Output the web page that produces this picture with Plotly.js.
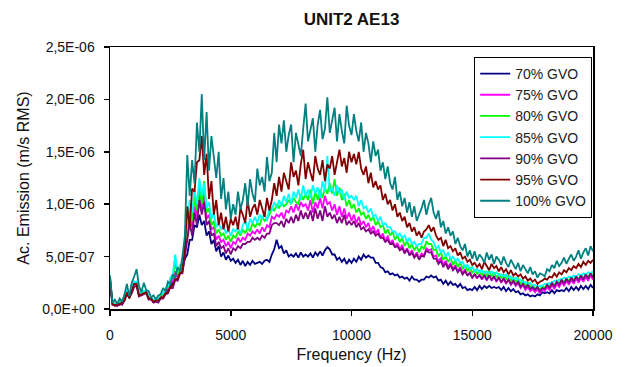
<!DOCTYPE html>
<html>
<head>
<meta charset="utf-8">
<script src="https://cdn.plot.ly/plotly-3.0.1.min.js"></script>
<style>
  html, body { margin: 0; padding: 0; background: #fff; }
  #chart { width: 629px; height: 367px; }
</style>
</head>
<body>
<div id="chart"></div>
<script>
// Acoustic emission spectra, sensor AE13 on unit 2, one trace per guide-vane opening.
// Amplitudes are stored in units of 1E-08 m/s RMS, sampled every 100 Hz from 0 to 20000 Hz.
const AMPLITUDE_UNIT = 1e-8;
const FREQ_STEP_HZ = 100;

const seriesNames = ['70% GVO', '75% GVO', '80% GVO', '85% GVO', '90% GVO', '95% GVO', '100% GVO'];

const gvo70 = [
  30,6,5,4,6,5,10,17,11,19,26,
  25,14,15,17,17,11,11,8,9,9,
  13,13,17,18,23,25,31,32,38,38,
  48,52,66,66,80,78,90,80,84,70,
  74,62,66,55,60,50,54,47,51,46,
  48,44,47,42,46,41,45,42,46,43,
  44,45,43,46,47,45,52,57,66,58,
  60,53,56,50,52,50,53,49,54,50,
  52,50,53,49,54,51,55,51,56,59,
  57,52,52,47,49,45,48,43,47,44,
  48,45,50,47,52,49,51,49,49,44,
  44,40,39,35,36,33,34,32,33,30,
  31,29,30,27,31,28,28,26,28,28,
  31,30,32,30,31,27,28,24,27,23,
  26,23,24,21,24,20,21,18,19,18,
  21,18,22,19,22,20,22,20,21,20,
  21,18,21,17,20,17,19,16,17,14,
  15,13,14,12,13,12,14,13,16,15,
  16,15,18,15,18,17,18,17,20,17,
  21,18,21,18,22,19,22,19,23,20
];

const gvo75 = [
  27,5,4,3,6,5,9,15,12,16,23,
  23,13,14,15,16,10,10,7,9,8,
  12,13,18,19,26,26,36,30,37,38,
  55,75,88,78,98,88,112,96,110,86,
  90,76,78,66,70,64,66,60,64,58,
  64,62,68,64,68,66,72,70,74,72,
  76,72,78,74,80,78,88,86,90,88,
  92,86,94,92,98,92,100,94,102,98,
  100,94,104,92,102,96,106,96,108,100,
  102,94,100,90,98,88,96,86,92,84,
  90,82,88,80,84,78,82,74,79,72,
  76,68,72,64,70,62,66,59,63,57,
  61,54,58,52,56,50,54,48,53,51,
  58,56,57,50,51,45,49,42,46,40,
  44,38,42,36,40,34,38,32,35,30,
  33,29,33,28,32,27,32,27,31,26,
  30,25,29,24,28,23,26,22,25,20,
  23,18,21,17,19,16,19,15,19,17,
  21,18,23,19,24,21,26,22,27,23,
  28,24,29,25,30,26,31,27,32,28
];

const gvo80 = [
  27,6,5,4,6,6,10,17,13,18,25,
  25,14,15,16,17,11,11,8,9,9,
  13,14,19,21,28,30,44,33,40,42,
  60,82,96,84,106,94,118,100,122,92,
  96,80,84,72,76,70,72,66,70,64,
  70,68,74,70,76,72,78,74,82,78,
  82,80,88,84,86,90,96,94,100,96,
  102,98,100,104,100,106,102,100,110,104,
  110,104,114,100,112,104,114,106,116,110,
  120,110,124,108,116,104,110,98,104,96,
  100,92,96,90,92,86,90,84,88,80,
  84,78,80,72,76,70,74,66,70,64,
  68,60,65,58,62,56,60,54,60,57,
  64,62,62,56,57,50,54,47,50,45,
  49,42,46,40,45,38,42,36,40,34,
  38,33,37,32,36,31,36,31,35,30,
  34,29,33,28,32,27,30,26,29,24,
  27,22,25,21,23,19,22,18,22,20,
  24,21,26,22,27,24,29,25,30,26,
  31,27,32,28,33,29,34,30,35,31
];

const gvo85 = [
  28,6,4,6,5,8,9,19,11,20,26,
  26,14,16,17,18,12,11,8,10,10,
  14,15,20,22,30,33,52,36,42,44,
  64,88,104,92,114,100,125,108,120,96,
  102,86,92,78,82,76,80,72,76,70,
  76,74,78,72,80,84,76,86,82,88,
  82,90,86,92,84,96,94,102,96,104,
  98,108,102,110,100,112,106,114,104,118,
  108,114,106,118,110,116,106,122,112,146,
  112,116,108,118,110,114,104,112,106,108,
  104,108,98,104,96,98,92,96,88,90,
  84,88,80,82,78,78,74,74,70,72,
  68,70,64,68,62,64,60,62,62,68,
  68,72,66,64,58,60,54,56,50,54,
  48,50,46,48,44,45,40,42,38,40,
  36,38,35,37,34,36,34,36,33,35,
  32,33,31,33,29,31,28,30,27,28,
  25,26,23,25,22,23,21,22,22,24,
  23,25,25,27,26,28,28,30,29,31,
  30,32,31,33,32,34,33,35,34,36
];

const gvo90 = [
  26,4,4,3,5,4,8,14,11,15,21,
  22,12,13,14,15,9,9,6,7,6,
  10,10,14,15,21,20,28,27,34,34,
  50,66,82,70,92,80,104,90,102,80,
  84,70,72,60,64,58,60,53,58,52,
  58,56,60,58,62,62,64,64,68,66,
  68,66,70,68,72,72,80,82,82,80,
  84,78,86,82,88,82,90,84,94,86,
  92,86,94,84,96,86,94,84,98,88,
  92,86,90,82,88,82,90,80,84,80,
  84,78,82,76,78,74,76,72,74,70,
  72,68,68,64,66,62,63,59,60,56,
  58,53,57,51,54,49,52,47,51,50,
  56,54,54,48,48,43,46,40,44,38,
  42,37,40,35,38,33,36,32,34,30,
  33,30,32,29,32,28,32,28,31,27,
  30,26,29,25,28,24,27,23,26,21,
  24,20,23,19,21,18,21,17,20,19,
  23,20,25,21,26,23,28,24,29,25,
  30,26,31,27,32,28,33,29,34,30
];

const gvo95 = [
  28,5,3,5,4,7,8,16,10,18,24,
  24,13,14,15,16,10,10,7,8,8,
  11,11,15,16,21,23,28,29,34,36,
  58,98,78,115,112,140,142,165,128,148,
  105,122,90,104,80,92,76,88,74,86,
  80,88,76,96,90,82,104,88,96,100,
  90,104,96,88,106,94,104,120,108,126,
  112,130,122,114,140,126,132,118,138,152,
  124,140,130,122,146,134,128,142,122,138,
  134,146,128,140,152,136,144,130,150,140,
  148,138,150,134,128,136,120,130,116,122,
  114,118,104,110,100,104,94,100,88,92,
  84,88,78,82,74,78,70,74,68,74,
  76,80,74,78,70,66,68,60,66,58,
  60,55,58,51,54,48,50,45,47,42,
  44,40,43,38,45,41,37,43,39,41,
  36,40,35,38,33,37,32,34,31,33,
  29,31,27,29,26,28,24,26,27,29,
  28,31,30,34,31,35,33,37,35,39,
  37,41,39,43,40,45,42,46,44,47
];

const gvo100 = [
  32,6,9,5,10,7,14,24,12,25,31,
  38,22,16,25,18,17,11,13,9,13,
  14,20,17,26,24,33,30,40,36,50,
  70,147,108,142,120,178,150,205,142,188,
  132,165,142,125,150,105,125,95,112,86,
  100,90,112,95,104,120,98,124,110,102,
  134,118,126,112,145,122,130,168,140,176,
  158,180,150,166,176,140,168,158,146,172,
  196,160,170,182,150,176,190,162,172,202,
  168,180,192,160,186,170,158,194,175,166,
  186,170,160,178,150,168,158,140,160,146,
  152,132,140,124,136,120,114,126,104,112,
  98,106,92,102,88,98,84,90,96,104,
  90,100,106,92,86,94,78,84,72,78,
  70,74,62,68,60,56,62,50,56,48,
  55,46,52,49,44,54,47,52,43,50,
  47,42,50,44,40,47,42,38,44,36,
  42,38,34,40,33,36,30,34,33,31,
  38,36,42,39,46,41,44,49,43,48,
  52,46,50,56,48,54,58,51,60,55
];

const seriesValues = [gvo70, gvo75, gvo80, gvo85, gvo90, gvo95, gvo100];
const seriesColors = ['#000080', '#FF00FF', '#00FF00', '#00FFFF', '#800080', '#800000', '#008080'];

const xTickVals = [0, 5000, 10000, 15000, 20000];
const yTickVals = [0, 5e-7, 1e-6, 1.5e-6, 2e-6, 2.5e-6];
const yTickText = ['0,0E+00', '5,0E-07', '1,0E-06', '1,5E-06', '2,0E-06', '2,5E-06'];

const FONT = 'Liberation Sans, Arial, Helvetica, sans-serif';

const traces = seriesValues.map((vals, k) => ({
  type: 'scatter',
  mode: 'lines',
  name: seriesNames[k],
  x: vals.map((_, i) => i * FREQ_STEP_HZ),
  y: vals.map(v => v * AMPLITUDE_UNIT),
  line: { color: seriesColors[k], width: 1.8 },
  hoverinfo: 'x+y+name'
}));

const axisCommon = {
  showline: true,
  linecolor: '#000',
  linewidth: 1.5,
  mirror: true,
  ticks: 'outside',
  ticklen: 5,
  tickwidth: 1.5,
  tickcolor: '#000',
  showgrid: false,
  zeroline: false,
  tickfont: { family: FONT, size: 14, color: '#111' }
};

const layout = {
  width: 629,
  height: 367,
  margin: { l: 110, r: 36, t: 47, b: 58 },
  paper_bgcolor: '#fff',
  plot_bgcolor: '#fff',
  title: {
    text: '<b>UNIT2 AE13</b>',
    font: { family: FONT, size: 17, color: '#111' },
    x: 0.5, xref: 'paper', xanchor: 'center',
    y: 0.948, yref: 'container', yanchor: 'middle'
  },
  xaxis: Object.assign({}, axisCommon, {
    range: [0, 20000],
    tickmode: 'array',
    tickvals: xTickVals,
    ticktext: xTickVals.map(String),
    ticklabelstandoff: 8,
    title: { text: 'Frequency (Hz)', font: { family: FONT, size: 16, color: '#111' }, standoff: 6 }
  }),
  yaxis: Object.assign({}, axisCommon, {
    range: [0, 2.5e-6],
    tickmode: 'array',
    tickvals: yTickVals,
    ticktext: yTickText,
    ticklabelstandoff: 6,
    title: { text: 'Ac. Emission (m/s RMS)', font: { family: FONT, size: 16, color: '#111' }, standoff: 8 }
  }),
  showlegend: true,
  legend: {
    x: 0.754, y: 0.962, xanchor: 'left', yanchor: 'top',
    bgcolor: '#fff',
    bordercolor: '#000',
    borderwidth: 1,
    font: { family: FONT, size: 14, color: '#222' }
  }
};

Plotly.newPlot('chart', traces, layout, { staticPlot: true, displayModeBar: false });
</script>
</body>
</html>
